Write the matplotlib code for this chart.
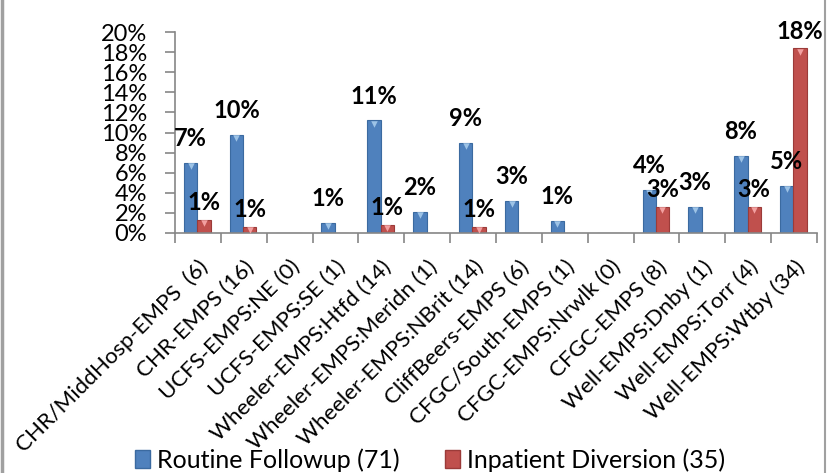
import numpy as np
import matplotlib
matplotlib.use("Agg")
import matplotlib.pyplot as plt
from matplotlib.lines import Line2D
from matplotlib.patches import Patch

# data (percent)
categories = [
    "CHR/MiddHosp-EMPS  (6)", "CHR-EMPS (16)", "UCFS-EMPS:NE (0)", "UCFS-EMPS:SE (1)",
    "Wheeler-EMPS:Htfd (14)", "Wheeler-EMPS:Meridn (1)", "Wheeler-EMPS:NBrit (14)",
    "CliffBeers-EMPS (6)", "CFGC/South-EMPS (1)", "CFGC-EMPS:Nrwlk (0)", "CFGC-EMPS (8)",
    "Well-EMPS:Dnby (1)", "Well-EMPS:Torr (4)", "Well-EMPS:Wtby (34)",
]
routine = [7.0, 9.8, 0, 1.0, 11.2, 2.1, 9.0, 3.2, 1.2, 0, 4.3, 2.6, 7.7, 4.7]
inpatient = [1.3, 0.6, 0, 0, 0.8, 0, 0.6, 0, 0, 0, 2.6, 0, 2.6, 18.4]
series_names = ["Routine Followup (71)", "Inpatient Diversion (35)"]
y_ticks = [0, 2, 4, 6, 8, 10, 12, 14, 16, 18, 20]

plt.rcParams['font.family'] = ['Lato', 'DejaVu Sans']

BLUE = "#4F81BD"
RED = "#C0504D"
GRAY = "#868686"

fig = plt.figure(figsize=(8.32, 4.73), dpi=100)
ax = fig.add_axes([0.2103, 0.5074, 0.7717, 0.4249])

x = np.arange(len(categories))
w = 0.29
# values, bar offset, fill, edge, bevel colour, label gap (pt)
series = [(routine, -0.16, BLUE, "#3B6AA0", "#9DC3E6", 9),
          (inpatient, 0.13, RED, "#9B3B39", "#F2A0A0", 4)]

for vals, off, col, edge, light, gap in series:
    vals = np.array(vals, dtype=float)
    ax.bar(x + off, vals, width=w, color=col, edgecolor=edge, linewidth=0.8, zorder=2)
    nz = vals > 0
    ax.scatter(x[nz] + off, vals[nz] - 0.35, marker="v", s=22, color=light,
               linewidths=0, zorder=3)
    for xi, v in zip(x[nz] + off, vals[nz]):
        ax.annotate(f"{v:.0f}%", (xi, v), xytext=(0, gap), textcoords="offset points",
                    ha="center", va="bottom", fontsize=17, fontweight="bold", zorder=4,
                    annotation_clip=False)

ax.set_xlim(-0.5, len(categories) - 0.5)
ax.set_ylim(0, 20)
ax.set_yticks(y_ticks)
ax.set_yticklabels([f"{t}%" for t in y_ticks], fontsize=17)
ax.set_xticks(x)
ax.set_xticklabels(categories, rotation=45, ha="right", rotation_mode="anchor", fontsize=16)
ax.set_xticks(np.arange(-0.5, len(categories)), minor=True)
ax.tick_params(axis="x", which="major", length=0, pad=17)
ax.tick_params(axis="x", which="minor", length=7, color=GRAY, width=1.2)
ax.tick_params(axis="y", length=7, color=GRAY, width=1.2, pad=13)

for s in ("top", "right"):
    ax.spines[s].set_visible(False)
for s in ("left", "bottom"):
    ax.spines[s].set_color(GRAY)
    ax.spines[s].set_linewidth(1.2)

handles = [Patch(facecolor=BLUE, edgecolor="#3B6AA0"), Patch(facecolor=RED, edgecolor="#9B3B39")]
fig.legend(handles, series_names, loc="lower center", bbox_to_anchor=(0.517, 0.0), ncol=2,
           frameon=False, fontsize=18, handlelength=0.6, handleheight=0.7,
           handletextpad=0.3, columnspacing=1.8, borderpad=0.05, borderaxespad=0)

# chart frame edges
fig.add_artist(Line2D([0.003, 0.003], [0, 1], color="#A0A0A0", linewidth=2.5))
fig.add_artist(Line2D([0.9915, 0.9915], [0, 1], color="#A0A0A0", linewidth=1.5))

fig.savefig("out.png", dpi=100)
